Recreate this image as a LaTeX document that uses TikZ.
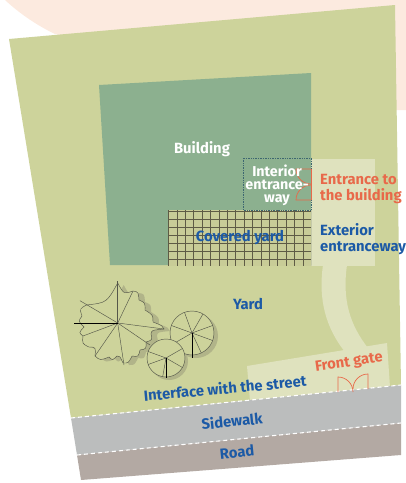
\documentclass[tikz,border=0pt]{standalone}
\usepackage{fontspec}
\setmainfont{Fira Sans}
\usepackage{tikz}
\usetikzlibrary{calc}
\definecolor{peach}{HTML}{FCEADF}
\definecolor{lotgreen}{HTML}{CDD39B}
\definecolor{buildgreen}{HTML}{8CB08F}
\definecolor{pathlight}{HTML}{DFE2BE}
\definecolor{walkgrey}{HTML}{BBBDBD}
\definecolor{roadbrown}{HTML}{B3A9A3}
\definecolor{planblue}{HTML}{1C5AA6}
\definecolor{gateorange}{HTML}{E8694A}
\definecolor{dotteal}{HTML}{3D6670}
\definecolor{gridline}{HTML}{5E5B45}
\definecolor{gridfill}{HTML}{C8CC97}
\definecolor{treeline}{HTML}{55574A}
\definecolor{treeshade}{HTML}{B1B489}

\begin{document}
\begin{tikzpicture}[x=1pt,y=-1pt,
    lbl/.style={font=\bfseries\fontsize{14.8}{15.7}\selectfont, inner sep=0pt},
    bluelbl/.style={lbl, text=planblue},
    orangelbl/.style={lbl, text=gateorange},
    whitelbl/.style={lbl, text=white},
    door/.style={draw=gateorange, line width=0.7pt},
    curb/.style={draw=white, line width=1.1pt, dash pattern=on 4pt off 3pt},
    spoke/.style={draw=treeline, line width=0.45pt},
    trunk/.style={draw=black, line width=1pt},
    % outline of the big tree: k > 0 pulls an edge in, k < 0 makes a scallop
    maple/.style={insert path={(117.7,283)
      \foreach \x/\y/\k [remember=\x as \lx (initially 117.7),
                         remember=\y as \ly (initially 283)] in
        {133/291/0.2, 139/300/-0.13, 145/310/-0.13, 153/322/-0.13,
         164/329/-0.1, 151/334/0.15, 146/342/-0.13, 140/350/-0.13,
         132/356/-0.13, 123/363/-0.1, 117/356/0.1, 109/357/-0.12,
         95/356/-0.12, 89/347/0.15, 83/336/-0.12, 84/327/-0.14,
         82/316/-0.14, 86.5/305/-0.14, 117.7/283/0.3}
        { .. controls ($(\lx,\ly)!0.5!(\x,\y)!\k!(117.7,323)$) .. (\x,\y) }
      -- cycle}}]
  \useasboundingbox (0,0) rectangle (406,483);

  % neighbouring lot behind
  \fill[peach] (5,0) .. controls (20,14) and (38,26) .. (55,34) -- (395,110)
    -- (406,110) -- (406,0) -- cycle;

  % the lot
  \fill[lotgreen] (9,39) -- (395,5) -- (401,385) -- (71,418) -- cycle;

  % walkway from the gate up to the door
  \fill[pathlight] (311,159) rectangle (375,266);
  \fill[pathlight] (323,265) .. controls (318,300) and (326,328) .. (345,352)
    -- (368,348) .. controls (350,325) and (342,300) .. (347,265) -- cycle;
  \fill[pathlight] (247,366) -- (387,343) -- (390,387) -- (250,401) -- cycle;

  % sidewalk and road
  \fill[walkgrey] (71,418) -- (401,385) -- (401,423) -- (77,455) -- cycle;
  \fill[roadbrown] (77,455) -- (401,423) -- (401,455) -- (81,480) -- cycle;
  \draw[curb] (71,418) -- (401,385);
  \draw[curb] (77,455) -- (401,423);

  % building with the covered yard
  \fill[buildgreen] (99,85) -- (311,73) -- (311,265) -- (110,265) -- cycle;
  \fill[gridfill] (168,210) rectangle (311,266);
  \begin{scope}
    \clip (168,210) rectangle (311,266);
    \foreach \x in {0,...,17}
      \draw[gridline, line width=0.6pt] (168.5+\x*8.4,210) -- ++(0,56);
    \foreach \y in {0,...,7}
      \draw[gridline, line width=0.9pt] (168,211+\y*8) -- ++(143,0);
  \end{scope}
  \draw[dotteal, densely dotted, line width=0.7pt] (243,158) rectangle (311,210);

  % doors
  \draw[door] (311,169) -- (311,200);
  \draw[door] (311,169) -- (296,169) arc[start angle=180, end angle=90, radius=15];
  \draw[door] (311,200) -- (296,200) arc[start angle=180, end angle=270, radius=15];
  \draw[door] (338,392) -- (338,377) arc[start angle=270, end angle=360, radius=15];
  \draw[door] (368,389) -- (368,374) arc[start angle=270, end angle=180, radius=15];

  % trees
  \begin{scope}[shift={(6,2)}]
    \fill[treeshade, maple];
  \end{scope}
  \fill[treeshade] (196,336) circle[radius=22];
  \fill[treeshade] (169,361) circle[radius=19];
  \filldraw[fill=lotgreen, spoke, maple];
  \foreach \p in {(117.7,281),(80,300.7),(133,291),(164,329),(124,365),(95,356),(83,336),(150,345)}
    \draw[spoke] (117.7,323) -- \p;
  \draw[trunk] (74,323) -- (117.7,323);
  \filldraw[fill=lotgreen, spoke] (192,333) circle[radius=22];
  \foreach \a in {20,65,150,200,250,300,340}
    \draw[spoke] (192,333) -- +(\a:22);
  \draw[trunk] (192,333) -- (192,358);
  \filldraw[fill=lotgreen, spoke] (166,358) circle[radius=19];
  \foreach \a in {30,100,160,200,330}
    \draw[spoke] (166,358) -- +(\a:19);
  \draw[trunk] (166,358) -- (166,378);

  % labels
  \node[whitelbl] (building) at (202,149) {Building};
  \node[whitelbl, align=center, font=\bfseries\fontsize{14.3}{12.8}\selectfont] (interior) at (277,185) {Interior\\entrance-\\way};
  \node[orangelbl, align=left, anchor=west] (entrance) at (320,189) {Entrance to\\the building};
  \node[bluelbl, align=left, anchor=west] (exterior) at (320,239) {Exterior\\entranceway};
  \node[bluelbl] (covered) at (240,238) {Covered yard};
  \node[bluelbl] (yard) at (248,304) {Yard};
  \node[bluelbl, rotate=5.3] (interface) at (225,388) {Interface with the street};
  \node[orangelbl, rotate=8] (gate) at (349,363) {Front gate};
  \node[bluelbl, rotate=5.7] (sidewalk) at (232,421) {Sidewalk};
  \node[bluelbl, rotate=5.7] (road) at (237,452) {Road};
\end{tikzpicture}
\end{document}
